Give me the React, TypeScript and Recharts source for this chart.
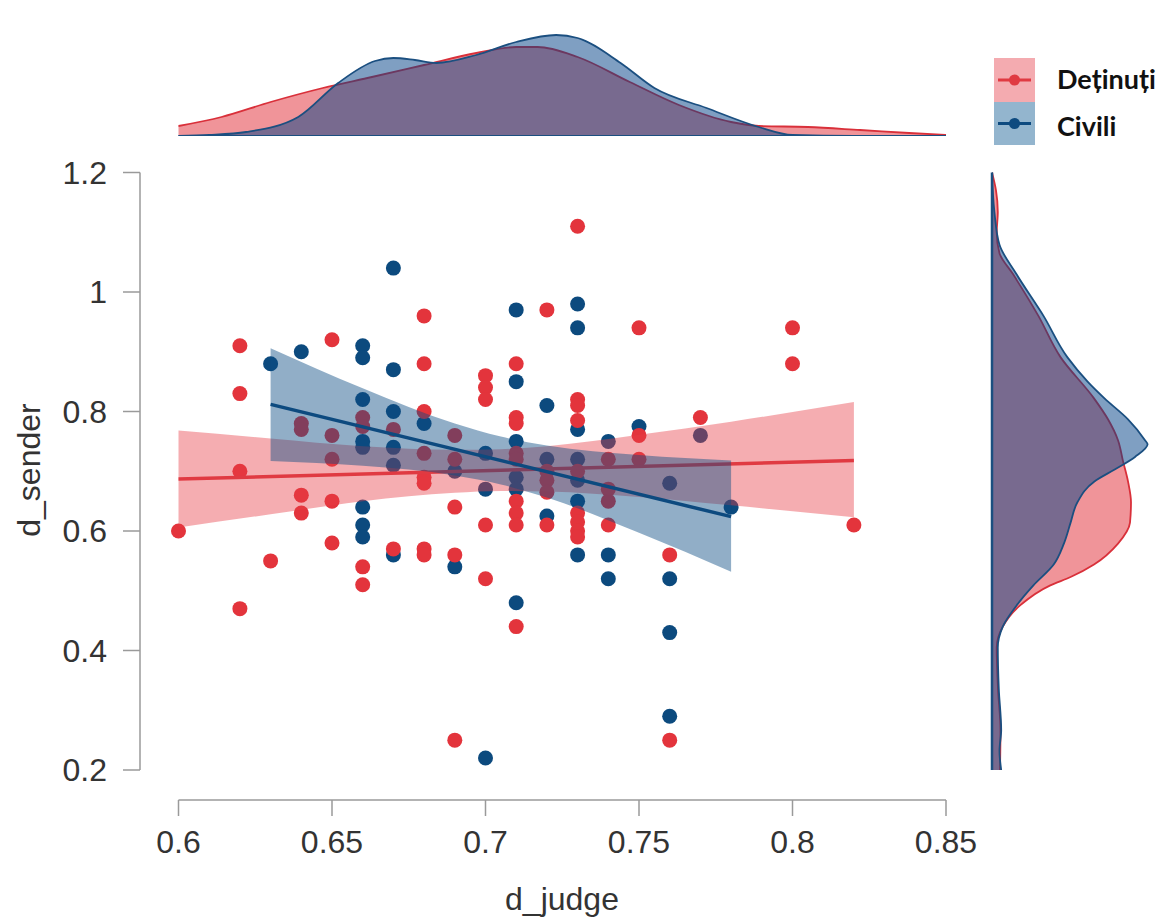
import React from 'react';
import { ComposedChart, Scatter, Line, Area, XAxis, YAxis, ReferenceLine } from 'recharts';

// ---------- tick labels ----------
const xTicks = [0.6, 0.65, 0.7, 0.75, 0.8, 0.85];
const yTicks = [0.2, 0.4, 0.6, 0.8, 1, 1.2];

// ---------- scatter points [d_judge, d_sender] ----------
const detinutiPoints: [number, number][] = [
  [0.6, 0.6],
  [0.62, 0.91], [0.62, 0.83], [0.62, 0.7], [0.62, 0.47],
  [0.63, 0.55],
  [0.64, 0.78], [0.64, 0.77], [0.64, 0.66], [0.64, 0.63],
  [0.65, 0.92], [0.65, 0.76], [0.65, 0.72], [0.65, 0.65], [0.65, 0.58],
  [0.66, 0.79], [0.66, 0.775], [0.66, 0.54], [0.66, 0.51],
  [0.67, 0.77], [0.67, 0.57],
  [0.68, 0.96], [0.68, 0.88], [0.68, 0.8], [0.68, 0.73], [0.68, 0.69], [0.68, 0.68], [0.68, 0.57], [0.68, 0.56],
  [0.69, 0.76], [0.69, 0.72], [0.69, 0.64], [0.69, 0.56], [0.69, 0.25],
  [0.7, 0.86], [0.7, 0.84], [0.7, 0.82], [0.7, 0.61], [0.7, 0.52],
  [0.71, 0.88], [0.71, 0.79], [0.71, 0.78], [0.71, 0.73], [0.71, 0.72], [0.71, 0.65], [0.71, 0.63], [0.71, 0.61], [0.71, 0.44],
  [0.72, 0.97], [0.72, 0.7], [0.72, 0.685], [0.72, 0.665], [0.72, 0.61],
  [0.73, 1.11], [0.73, 0.82], [0.73, 0.81], [0.73, 0.785], [0.73, 0.7], [0.73, 0.63], [0.73, 0.615], [0.73, 0.6], [0.73, 0.59],
  [0.74, 0.72], [0.74, 0.67], [0.74, 0.65], [0.74, 0.61],
  [0.75, 0.94], [0.75, 0.76], [0.75, 0.72],
  [0.76, 0.56], [0.76, 0.25],
  [0.77, 0.79],
  [0.8, 0.94], [0.8, 0.88],
  [0.82, 0.61],
];

const civiliPoints: [number, number][] = [
  [0.63, 0.88],
  [0.64, 0.9],
  [0.66, 0.91], [0.66, 0.89], [0.66, 0.82], [0.66, 0.75], [0.66, 0.74], [0.66, 0.64], [0.66, 0.61], [0.66, 0.59],
  [0.67, 1.04], [0.67, 0.87], [0.67, 0.8], [0.67, 0.74], [0.67, 0.71], [0.67, 0.56],
  [0.68, 0.78],
  [0.69, 0.7], [0.69, 0.54],
  [0.7, 0.73], [0.7, 0.67], [0.7, 0.22],
  [0.71, 0.97], [0.71, 0.85], [0.71, 0.75], [0.71, 0.69], [0.71, 0.67], [0.71, 0.48],
  [0.72, 0.81], [0.72, 0.72], [0.72, 0.625],
  [0.73, 0.98], [0.73, 0.94], [0.73, 0.77], [0.73, 0.72], [0.73, 0.685], [0.73, 0.65], [0.73, 0.56],
  [0.74, 0.75], [0.74, 0.56], [0.74, 0.52],
  [0.75, 0.775],
  [0.76, 0.68], [0.76, 0.52], [0.76, 0.43], [0.76, 0.29],
  [0.77, 0.76],
  [0.78, 0.64],
];

// ---------- regression fits and confidence bands ----------
const detinutiFitX = [0.6, 0.82];
const detinutiFitY = [0.687, 0.718];
const civiliFitX = [0.63, 0.78];
const civiliFitY = [0.812, 0.624];

const detinutiBandX = [0.6, 0.63, 0.66, 0.69, 0.705, 0.72, 0.75, 0.78, 0.82];
const detinutiBandLo = [0.606, 0.628, 0.65, 0.664, 0.667, 0.666, 0.657, 0.643, 0.623];
const detinutiBandHi = [0.768, 0.755, 0.742, 0.736, 0.737, 0.742, 0.761, 0.783, 0.816];

const civiliBandX = [0.63, 0.66, 0.69, 0.705, 0.72, 0.75, 0.78];
const civiliBandLo = [0.717, 0.709, 0.693, 0.678, 0.656, 0.597, 0.532];
const civiliBandHi = [0.906, 0.839, 0.78, 0.758, 0.743, 0.727, 0.718];

// ---------- marginal densities ----------
const topDetinutiX = [0.6, 0.614, 0.63, 0.647, 0.663, 0.68, 0.697, 0.71, 0.717, 0.73, 0.747, 0.763, 0.78, 0.789, 0.805, 0.822, 0.838, 0.85];
const topDetinutiD = [1.0, 1.9, 3.4, 4.8, 5.9, 7.1, 8.3, 8.9, 8.9, 7.9, 5.4, 3.1, 1.4, 1.0, 0.9, 0.6, 0.3, 0.1];
const topCiviliX = [0.6, 0.61, 0.622, 0.639, 0.652, 0.664, 0.67, 0.677, 0.684, 0.697, 0.71, 0.723, 0.73, 0.744, 0.755, 0.772, 0.789, 0.8, 0.82, 0.85];
const topCiviliD = [0, 0.1, 0.4, 1.9, 5.3, 7.5, 7.8, 7.6, 7.3, 8.1, 9.4, 10.1, 9.8, 7.3, 4.8, 2.8, 0.9, 0.1, 0, 0];

const rightCiviliV = [1.2, 1.134, 1.079, 1.03, 0.96, 0.891, 0.85, 0.822, 0.787, 0.752, 0.745, 0.724, 0.703, 0.683, 0.648, 0.614, 0.579, 0.544, 0.509, 0.475, 0.44, 0.405, 0.336, 0.267, 0.232, 0.2];
const rightCiviliD = [0, 0.24, 0.75, 2.44, 5.15, 7.53, 9.56, 11.25, 13.6, 15.3, 15.56, 14.3, 12.27, 10.24, 8.54, 7.86, 7.19, 6.17, 4.14, 2.44, 1.08, 0.58, 0.68, 0.92, 0.75, 0.92];
const rightDetinutiV = [1.2, 1.17, 1.134, 1.099, 1.065, 1.03, 0.96, 0.891, 0.822, 0.787, 0.752, 0.717, 0.683, 0.648, 0.614, 0.579, 0.544, 0.523, 0.509, 0.475, 0.44, 0.405, 0.336, 0.267, 0.2];
const rightDetinutiD = [0, 0.4, 0.58, 0.47, 0.75, 2.1, 4.64, 6.85, 10.2, 11.6, 12.6, 13.1, 13.6, 13.9, 13.8, 12.6, 10.2, 7.86, 5.83, 2.78, 1.08, 0.47, 0.6, 0.85, 0.8];

// ---------- styling ----------
const RED = '#e3343c';
const BLUE = '#0c4a7e';
const AXIS_GRAY = '#9a9a9a';
const TEXT = '#333333';
const FONT = '"Liberation Sans", Arial, sans-serif';

// ---------- derived tables ----------
const redPts = detinutiPoints.map(([x, y]) => ({ x, y }));
const bluePts = civiliPoints.map(([x, y]) => ({ x, y }));
const redFit = detinutiFitX.map((x, i) => ({ x, y: detinutiFitY[i] }));
const blueFit = civiliFitX.map((x, i) => ({ x, y: civiliFitY[i] }));
const redBand = detinutiBandX.map((x, i) => ({ x, band: [detinutiBandLo[i], detinutiBandHi[i]] }));
const blueBand = civiliBandX.map((x, i) => ({ x, band: [civiliBandLo[i], civiliBandHi[i]] }));
const topRed = topDetinutiX.map((x, i) => ({ x, d: topDetinutiD[i] }));
const topBlue = topCiviliX.map((x, i) => ({ x, d: topCiviliD[i] }));
const rightRed = rightDetinutiV.map((v, i) => ({ v, d: rightDetinutiD[i] }));
const rightBlue = rightCiviliV.map((v, i) => ({ v, d: rightCiviliD[i] }));

// main plot geometry: axes are offset from the data region (R base style)
const PLOT_LEFT = 140;
const PLOT_RIGHT = 946;
const PLOT_TOP = 172.5;
const PLOT_BOTTOM = 800;
const X0_PX = 178.5; // where 0.6 sits
const Y0_PX = 770; // where 0.2 sits
const X_MAX = 0.85;
const Y_MAX = 1.2;
const X_MIN = X_MAX - ((PLOT_RIGHT - PLOT_LEFT) * 0.25) / (PLOT_RIGHT - X0_PX);
const Y_MIN = Y_MAX - ((PLOT_BOTTOM - PLOT_TOP) * 1.0) / (Y0_PX - PLOT_TOP);

const dot = (color: string) => (props: any) => (
  <circle cx={props.cx} cy={props.cy} r={7.5} fill={color} />
);

export default function App() {
  return (
    <div style={{ position: 'absolute', left: 0, top: 0, width: 1159, height: 921, background: '#fff', overflow: 'hidden' }}>
      {/* main scatter plot */}
      <div style={{ position: 'absolute', left: 0, top: 0 }}>
        <ComposedChart
          width={1159}
          height={921}
          margin={{ top: PLOT_TOP, right: 1159 - PLOT_RIGHT, bottom: 0, left: 0 }}
        >
          <XAxis
            type="number"
            dataKey="x"
            domain={[X_MIN, X_MAX]}
            allowDataOverflow
            ticks={xTicks}
            interval={0}
            height={921 - PLOT_BOTTOM}
            axisLine={false}
            tickLine={{ stroke: AXIS_GRAY, strokeWidth: 1.5 }}
            tickSize={16}
            tickMargin={14}
            tick={{ fontSize: 32, fill: TEXT, fontFamily: FONT }}
          />
          <YAxis
            type="number"
            dataKey="y"
            domain={[Y_MIN, Y_MAX]}
            allowDataOverflow
            ticks={yTicks}
            interval={0}
            width={PLOT_LEFT}
            axisLine={false}
            tickLine={{ stroke: AXIS_GRAY, strokeWidth: 1.5 }}
            tickSize={17}
            tickMargin={16}
            tick={{ fontSize: 32, fill: TEXT, fontFamily: FONT }}
          />
          <ReferenceLine
            segment={[{ x: 0.6, y: Y_MIN }, { x: 0.85, y: Y_MIN }]}
            stroke={AXIS_GRAY}
            strokeWidth={1.5}
            ifOverflow="visible"
          />
          <ReferenceLine
            segment={[{ x: X_MIN, y: 0.2 }, { x: X_MIN, y: 1.2 }]}
            stroke={AXIS_GRAY}
            strokeWidth={1.5}
            ifOverflow="visible"
          />
          <Scatter data={bluePts} fill={BLUE} shape={dot(BLUE)} isAnimationActive={false} zIndex={50} />
          <Scatter data={redPts} fill={RED} shape={dot(RED)} isAnimationActive={false} zIndex={51} />
          <Area
            data={redBand}
            dataKey="band"
            type="monotone"
            fill="#e63c46"
            fillOpacity={0.42}
            stroke="none"
            activeDot={false}
            isAnimationActive={false}
            zIndex={100}
          />
          <Line
            data={redFit}
            dataKey="y"
            type="linear"
            stroke="#e03a42"
            strokeWidth={3.5}
            dot={false}
            activeDot={false}
            isAnimationActive={false}
            zIndex={110}
          />
          <Area
            data={blueBand}
            dataKey="band"
            type="monotone"
            fill="#0b4b82"
            fillOpacity={0.45}
            stroke="none"
            activeDot={false}
            isAnimationActive={false}
            zIndex={120}
          />
          <Line
            data={blueFit}
            dataKey="y"
            type="linear"
            stroke="#0d4a7f"
            strokeWidth={3.5}
            dot={false}
            activeDot={false}
            isAnimationActive={false}
            zIndex={130}
          />
        </ComposedChart>
      </div>

      {/* top marginal density */}
      <div style={{ position: 'absolute', left: 0, top: 0 }}>
        <ComposedChart width={1159} height={136} margin={{ top: 30, right: 1159 - PLOT_RIGHT, bottom: 0, left: X0_PX }}>
          <XAxis type="number" dataKey="x" domain={[0.6, 0.85]} hide />
          <YAxis type="number" domain={[0, 10.6]} hide allowDataOverflow />
          <Area
            data={topRed}
            dataKey="d"
            type="monotone"
            fill="#e12933"
            fillOpacity={0.5}
            stroke="#d9303a"
            strokeWidth={1.8}
            activeDot={false}
            isAnimationActive={false}
          />
          <Area
            data={topBlue}
            dataKey="d"
            type="monotone"
            fill="#003f85"
            fillOpacity={0.5}
            stroke="#1b4f80"
            strokeWidth={1.8}
            activeDot={false}
            isAnimationActive={false}
          />
          <ReferenceLine y={0} stroke="#1b4f80" strokeWidth={2} />
        </ComposedChart>
      </div>

      {/* right marginal density */}
      <div style={{ position: 'absolute', left: 960, top: 150 }}>
        <ComposedChart layout="vertical" width={199} height={640} margin={{ top: 22.5, right: 0, bottom: 20, left: 32 }}>
          <XAxis type="number" domain={[0, 16.7]} hide allowDataOverflow />
          <YAxis type="number" dataKey="v" domain={[0.2, 1.2]} reversed hide />
          <Area
            data={rightRed}
            dataKey="d"
            type="monotone"
            fill="#e12933"
            fillOpacity={0.5}
            stroke="#d9303a"
            strokeWidth={1.8}
            activeDot={false}
            isAnimationActive={false}
          />
          <Area
            data={rightBlue}
            dataKey="d"
            type="monotone"
            fill="#003f85"
            fillOpacity={0.5}
            stroke="#1b4f80"
            strokeWidth={1.8}
            activeDot={false}
            isAnimationActive={false}
          />
          <ReferenceLine x={0} stroke="#1b4f80" strokeWidth={2.5} />
        </ComposedChart>
      </div>

      {/* titles and legend */}
      <svg width={1159} height={921} style={{ position: 'absolute', left: 0, top: 0, pointerEvents: 'none' }}>
        <text x={562} y={910} textAnchor="middle" fontSize={32} fill={TEXT} fontFamily={FONT}>
          d_judge
        </text>
        <text x={40} y={470} textAnchor="middle" fontSize={32} fill={TEXT} fontFamily={FONT} transform="rotate(-90 40 470)">
          d_sender
        </text>
        <rect x={994} y={58} width={41} height={44} fill="#f4abb0" />
        <line x1={998} x2={1031} y1={80} y2={80} stroke="#e03a42" strokeWidth={3} />
        <circle cx={1014.5} cy={80} r={5.5} fill="#e03a42" />
        <rect x={994} y={102} width={41} height={43} fill="#93b5ce" />
        <line x1={998} x2={1031} y1={123.5} y2={123.5} stroke="#0d4a7f" strokeWidth={3} />
        <circle cx={1014.5} cy={123.5} r={5.5} fill="#0d4a7f" />
        <text x={1057} y={89} fontSize={27} fontWeight={700} fill="#111" fontFamily="Lato, 'Open Sans', sans-serif">
          Deținuți
        </text>
        <text x={1057} y={136} fontSize={27} fontWeight={700} fill="#111" fontFamily="Lato, 'Open Sans', sans-serif">
          Civili
        </text>
      </svg>
    </div>
  );
}
